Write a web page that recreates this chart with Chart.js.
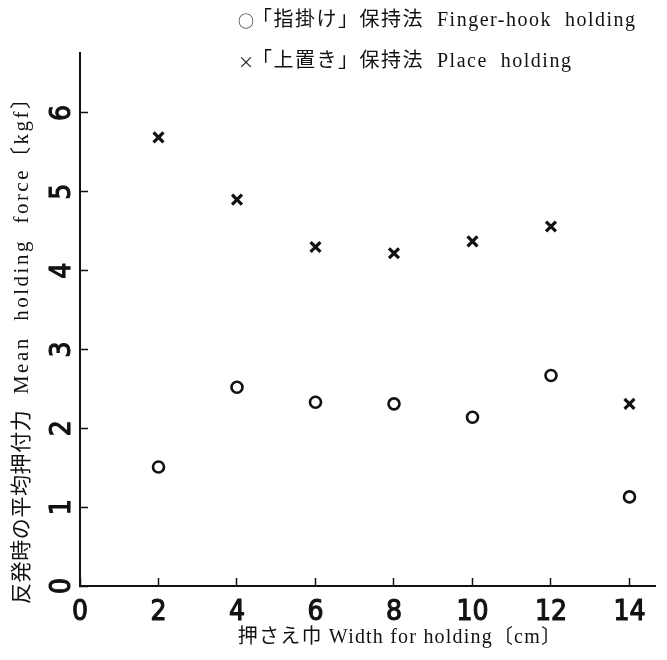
<!DOCTYPE html>
<html>
<head>
<meta charset="utf-8">
<script src="https://cdn.jsdelivr.net/npm/chart.js@4/dist/chart.umd.min.js"></script>
<style>
  html, body { margin: 0; padding: 0; background: #fff; }
  #wrap { width: 667px; height: 660px; position: relative; }
</style>
</head>
<body>
<div id="wrap"><canvas id="c" width="667" height="660"></canvas></div>
<script>
// Holding width (cm) and mean holding force (kgf) for the two holding methods
const widths = [2, 4, 6, 8, 10, 12, 14];
const fingerHook = [1.51, 2.52, 2.33, 2.31, 2.14, 2.67, 1.13];
const placeHold = [5.69, 4.90, 4.30, 4.22, 4.37, 4.56, 2.31];

const xTicks = [0, 2, 4, 6, 8, 10, 12, 14];
const yTicks = [0, 1, 2, 3, 4, 5, 6];

const seriesGlyphs = ['○', '×'];
const seriesNames = ['「指掛け」保持法  Finger-hook  holding', '「上置き」保持法  Place  holding'];
const xTitle = '押さえ巾 Width for holding〔cm〕';
const yTitleJa = '反発時の平均押付力';
const yTitleEn = '  Mean  holding  force〔kgf〕';

const INK = '#111';
const SERIF = '"Liberation Serif", "Noto Sans CJK JP", serif';
const CJK = '"Noto Sans CJK JP", sans-serif';
const DIGITS = '"Liberation Sans Narrow", "DejaVu Sans Condensed", Roboto, sans-serif';

// Two-line key in the upper right, and the axis titles
const annotations = {
  id: 'annotations',
  afterDraw(chart) {
    const ctx = chart.ctx;
    const spacing = px => { if ('letterSpacing' in ctx) ctx.letterSpacing = px + 'px'; };
    ctx.save();
    ctx.fillStyle = INK;
    ctx.textBaseline = 'middle';

    seriesNames.forEach((name, i) => {
      const y = 21 + i * 41;
      spacing(0);
      ctx.textAlign = 'center';
      ctx.font = '16px ' + CJK;
      ctx.fillText(seriesGlyphs[i], 246, y);
      ctx.textAlign = 'left';
      ctx.font = '20px ' + SERIF;
      spacing(1.5);
      ctx.fillText(name, 252, y);
    });

    // x title
    ctx.textAlign = 'center';
    ctx.font = '20px ' + SERIF;
    spacing(1.2);
    ctx.fillText(xTitle, 400, 638);

    // y title, reading bottom to top
    ctx.translate(22, 604);
    ctx.rotate(-Math.PI / 2);
    ctx.textAlign = 'left';
    ctx.font = '21px ' + SERIF;
    spacing(0.6);
    ctx.fillText(yTitleJa, 0, 0);
    const jaWidth = ctx.measureText(yTitleJa).width;
    spacing(2.5);
    ctx.fillText(yTitleEn, jaWidth, 0);
    ctx.restore();
  }
};

new Chart(document.getElementById('c'), {
  type: 'scatter',
  data: {
    datasets: [
      {
        label: seriesNames[0],
        data: widths.map((w, i) => ({ x: w, y: fingerHook[i] })),
        pointStyle: 'circle',
        pointRadius: 5.5,
        pointBorderWidth: 2.6,
        borderColor: INK,
        backgroundColor: 'rgba(0,0,0,0)'
      },
      {
        label: seriesNames[1],
        data: widths.map((w, i) => ({ x: w, y: placeHold[i] })),
        pointStyle: 'crossRot',
        pointRadius: 7,
        pointBorderWidth: 3.2,
        borderColor: INK,
        backgroundColor: INK
      }
    ]
  },
  options: {
    responsive: false,
    animation: false,
    devicePixelRatio: 1,
    layout: { padding: { top: 53, right: 12, left: 0, bottom: 0 } },
    plugins: {
      legend: { display: false },
      tooltip: { enabled: false }
    },
    scales: {
      x: {
        type: 'linear',
        min: 0,
        max: 14.65,
        afterBuildTicks: s => { s.ticks = xTicks.map(v => ({ value: v })); },
        afterFit: s => { s.height = 74; },
        grid: { drawOnChartArea: false, drawTicks: true, tickLength: -8, tickWidth: 1.5, tickColor: INK },
        border: { display: true, color: INK, width: 2 },
        ticks: { color: INK, font: { family: DIGITS, size: 28 }, textStrokeColor: INK, textStrokeWidth: 1.1, padding: 18, maxRotation: 0 }
      },
      y: {
        type: 'linear',
        min: 0,
        max: 6.76,
        afterBuildTicks: s => { s.ticks = yTicks.map(v => ({ value: v })); },
        afterFit: s => { s.width = 80; },
        grid: { drawOnChartArea: false, drawTicks: true, tickLength: -8, tickWidth: 1.5, tickColor: INK },
        border: { display: true, color: INK, width: 2 },
        ticks: { color: INK, font: { family: DIGITS, size: 28 }, textStrokeColor: INK, textStrokeWidth: 1.1, padding: 17, minRotation: 90, maxRotation: 90, crossAlign: 'center' }
      }
    }
  },
  plugins: [annotations]
});
</script>
</body>
</html>
